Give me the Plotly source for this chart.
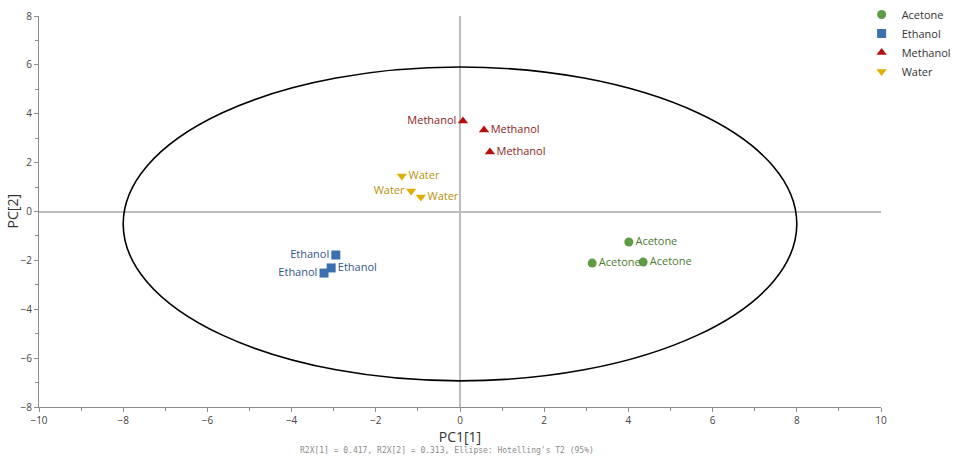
import plotly.graph_objects as go

# PCA score values (PC1, PC2) per solvent
groups = ["Acetone", "Ethanol", "Methanol", "Water"]
pc1 = {
    "Acetone": [4.01, 3.14, 4.35],
    "Ethanol": [-2.95, -3.06, -3.23],
    "Methanol": [0.07, 0.57, 0.71],
    "Water": [-1.38, -1.16, -0.93],
}
pc2 = {
    "Acetone": [-1.25, -2.11, -2.07],
    "Ethanol": [-1.78, -2.31, -2.52],
    "Methanol": [3.70, 3.33, 2.43],
    "Water": [1.45, 0.84, 0.59],
}
label_side = {
    "Acetone": ["middle right", "middle right", "middle right"],
    "Ethanol": ["middle left", "middle right", "middle left"],
    "Methanol": ["middle left", "middle right", "middle right"],
    "Water": ["middle right", "middle left", "middle right"],
}
marker_color = {"Acetone": "#5f9a45", "Ethanol": "#3b6fae", "Methanol": "#b30f0f", "Water": "#e0ad00"}
text_color = {"Acetone": "#4b7a32", "Ethanol": "#30558a", "Methanol": "#8e1c1c", "Water": "#b8900a"}
symbol = {"Acetone": "circle", "Ethanol": "square", "Methanol": "triangle-up", "Water": "triangle-down"}

# Hotelling's T2 ellipse (center and semi-axes)
ell_cx, ell_cy = 0.0, -0.51
ell_rx, ell_ry = 8.0, 6.42

x_ticks = list(range(-10, 11, 2))
y_ticks = list(range(-8, 9, 2))

fig = go.Figure()
for g in groups:
    fig.add_trace(go.Scatter(
        x=pc1[g], y=pc2[g], mode="markers+text", name=g,
        text=[g] * len(pc1[g]), textposition=label_side[g],
        textfont=dict(family="Open Sans, sans-serif", size=11, color=text_color[g]),
        marker=dict(symbol=symbol[g], size=9, color=marker_color[g], line=dict(width=0)),
    ))

fig.add_shape(type="circle", xref="x", yref="y",
              x0=ell_cx - ell_rx, x1=ell_cx + ell_rx,
              y0=ell_cy - ell_ry, y1=ell_cy + ell_ry,
              line=dict(color="black", width=1.6), layer="above")

axis_common = dict(
    showgrid=False, zeroline=True, zerolinecolor="#bdbdbd", zerolinewidth=1.5,
    showline=True, linecolor="#8c8c8c", linewidth=1,
    ticks="outside", ticklen=4, tickcolor="#8c8c8c",
    tickfont=dict(family="Open Sans, sans-serif", size=10, color="#444"),
    minor=dict(dtick=1, ticks="outside", ticklen=3, tickcolor="#8c8c8c"),
)
fig.update_xaxes(range=[-10, 10], tickvals=x_ticks, title=dict(text="PC1[1]", standoff=3,
                 font=dict(family="Open Sans, sans-serif", size=14, color="#333")), **axis_common)
fig.update_yaxes(range=[-8, 8], tickvals=y_ticks, **axis_common)

# y-axis title placed close to the tick labels
fig.add_annotation(text="PC[2]", xref="paper", yref="paper", x=-0.031, y=0.5,
                   xanchor="center", yanchor="middle", textangle=-90, showarrow=False,
                   font=dict(family="Open Sans, sans-serif", size=14, color="#333"))

fig.add_annotation(text="R2X[1] = 0.417, R2X[2] = 0.313, Ellipse: Hotelling's T2 (95%)",
                   xref="paper", yref="paper", x=0.485, y=-0.112, xanchor="center", yanchor="middle",
                   showarrow=False, font=dict(family="DejaVu Sans Mono, monospace", size=8, color="#8a8a8a"))

fig.update_layout(
    width=957, height=457, plot_bgcolor="white", paper_bgcolor="white",
    margin=dict(l=39, r=76, t=16, b=50, autoexpand=False),
    legend=dict(x=0.977, y=1.041, xanchor="left", yanchor="top", tracegroupgap=0,
                font=dict(family="Open Sans, sans-serif", size=11, color="#333"),
                itemwidth=30, bgcolor="rgba(0,0,0,0)"),
)
fig.write_html("out.html")
